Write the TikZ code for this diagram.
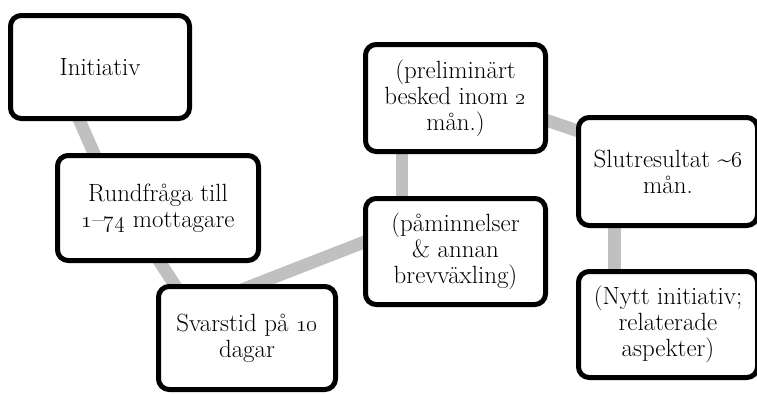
\documentclass[tikz,border=0pt]{standalone}
\usetikzlibrary{calc,backgrounds}
\begin{document}
\begin{tikzpicture}[x=0.75pt,y=-0.75pt,
  box/.style={draw=black,line width=3.75pt,fill=white,rounded corners=8pt,
    align=center,inner sep=0pt,
    font=\fontsize{18.7}{19.5}\selectfont},
  conn/.style={draw={rgb,255:red,192;green,192;blue,192},line width=9.5pt}]
\useasboundingbox (0,0) rectangle (757,393);
\node[box,minimum width=134.25pt,minimum height=77.25pt] (b1) at (100,67) {Initiativ};
\node[box,minimum width=150.75pt,minimum height=78.75pt] (b2) at (158,208) {Rundfråga till\\\oldstylenums{1}--\oldstylenums{74} mottagare};
\node[box,minimum width=132.75pt,minimum height=77.25pt] (b3) at (247,338) {Svarstid på \oldstylenums{10}\\dagar};
\node[box,minimum width=135pt,minimum height=80.25pt] (b4) at (455.5,98) {(preliminärt\\besked inom \oldstylenums{2}\\mån.)};
\node[box,minimum width=135pt,minimum height=79.5pt] (b5) at (455.5,251.5) {(påminnelser\\\& annan\\brevväxling)};
\node[box,minimum width=134.25pt,minimum height=81pt] (b6) at (668,171.5) {Slutresultat \textasciitilde\oldstylenums{6}\\mån.};
\node[box,minimum width=134.25pt,minimum height=79.5pt] (b7) at (668,324.5) {(Nytt initiativ;\\relaterade\\aspekter)};
\begin{scope}[on background layer]
\draw[conn] ($(b1.center)+(-44,0)$) -- ($(b2.center)+(-40,0)$);
\draw[conn] ($(b2.center)+(-33,0)$) -- ($(b3.center)+(-38,0)$);
\draw[conn] ($(b3.center)+(-47,-32)$) -- ($(b5.center)+(0,-45)$);
\draw[conn] ($(b4.center)+(-53.5,0)$) -- ($(b5.center)+(-53.5,0)$);
\draw[conn] ($(b4.center)+(0,-8.6)$) -- ($(b6.center)+(0,-10)$);
\draw[conn] ($(b6.center)+(-53.5,0)$) -- ($(b7.center)+(-53.5,0)$);
\end{scope}
\end{tikzpicture}
\end{document}
